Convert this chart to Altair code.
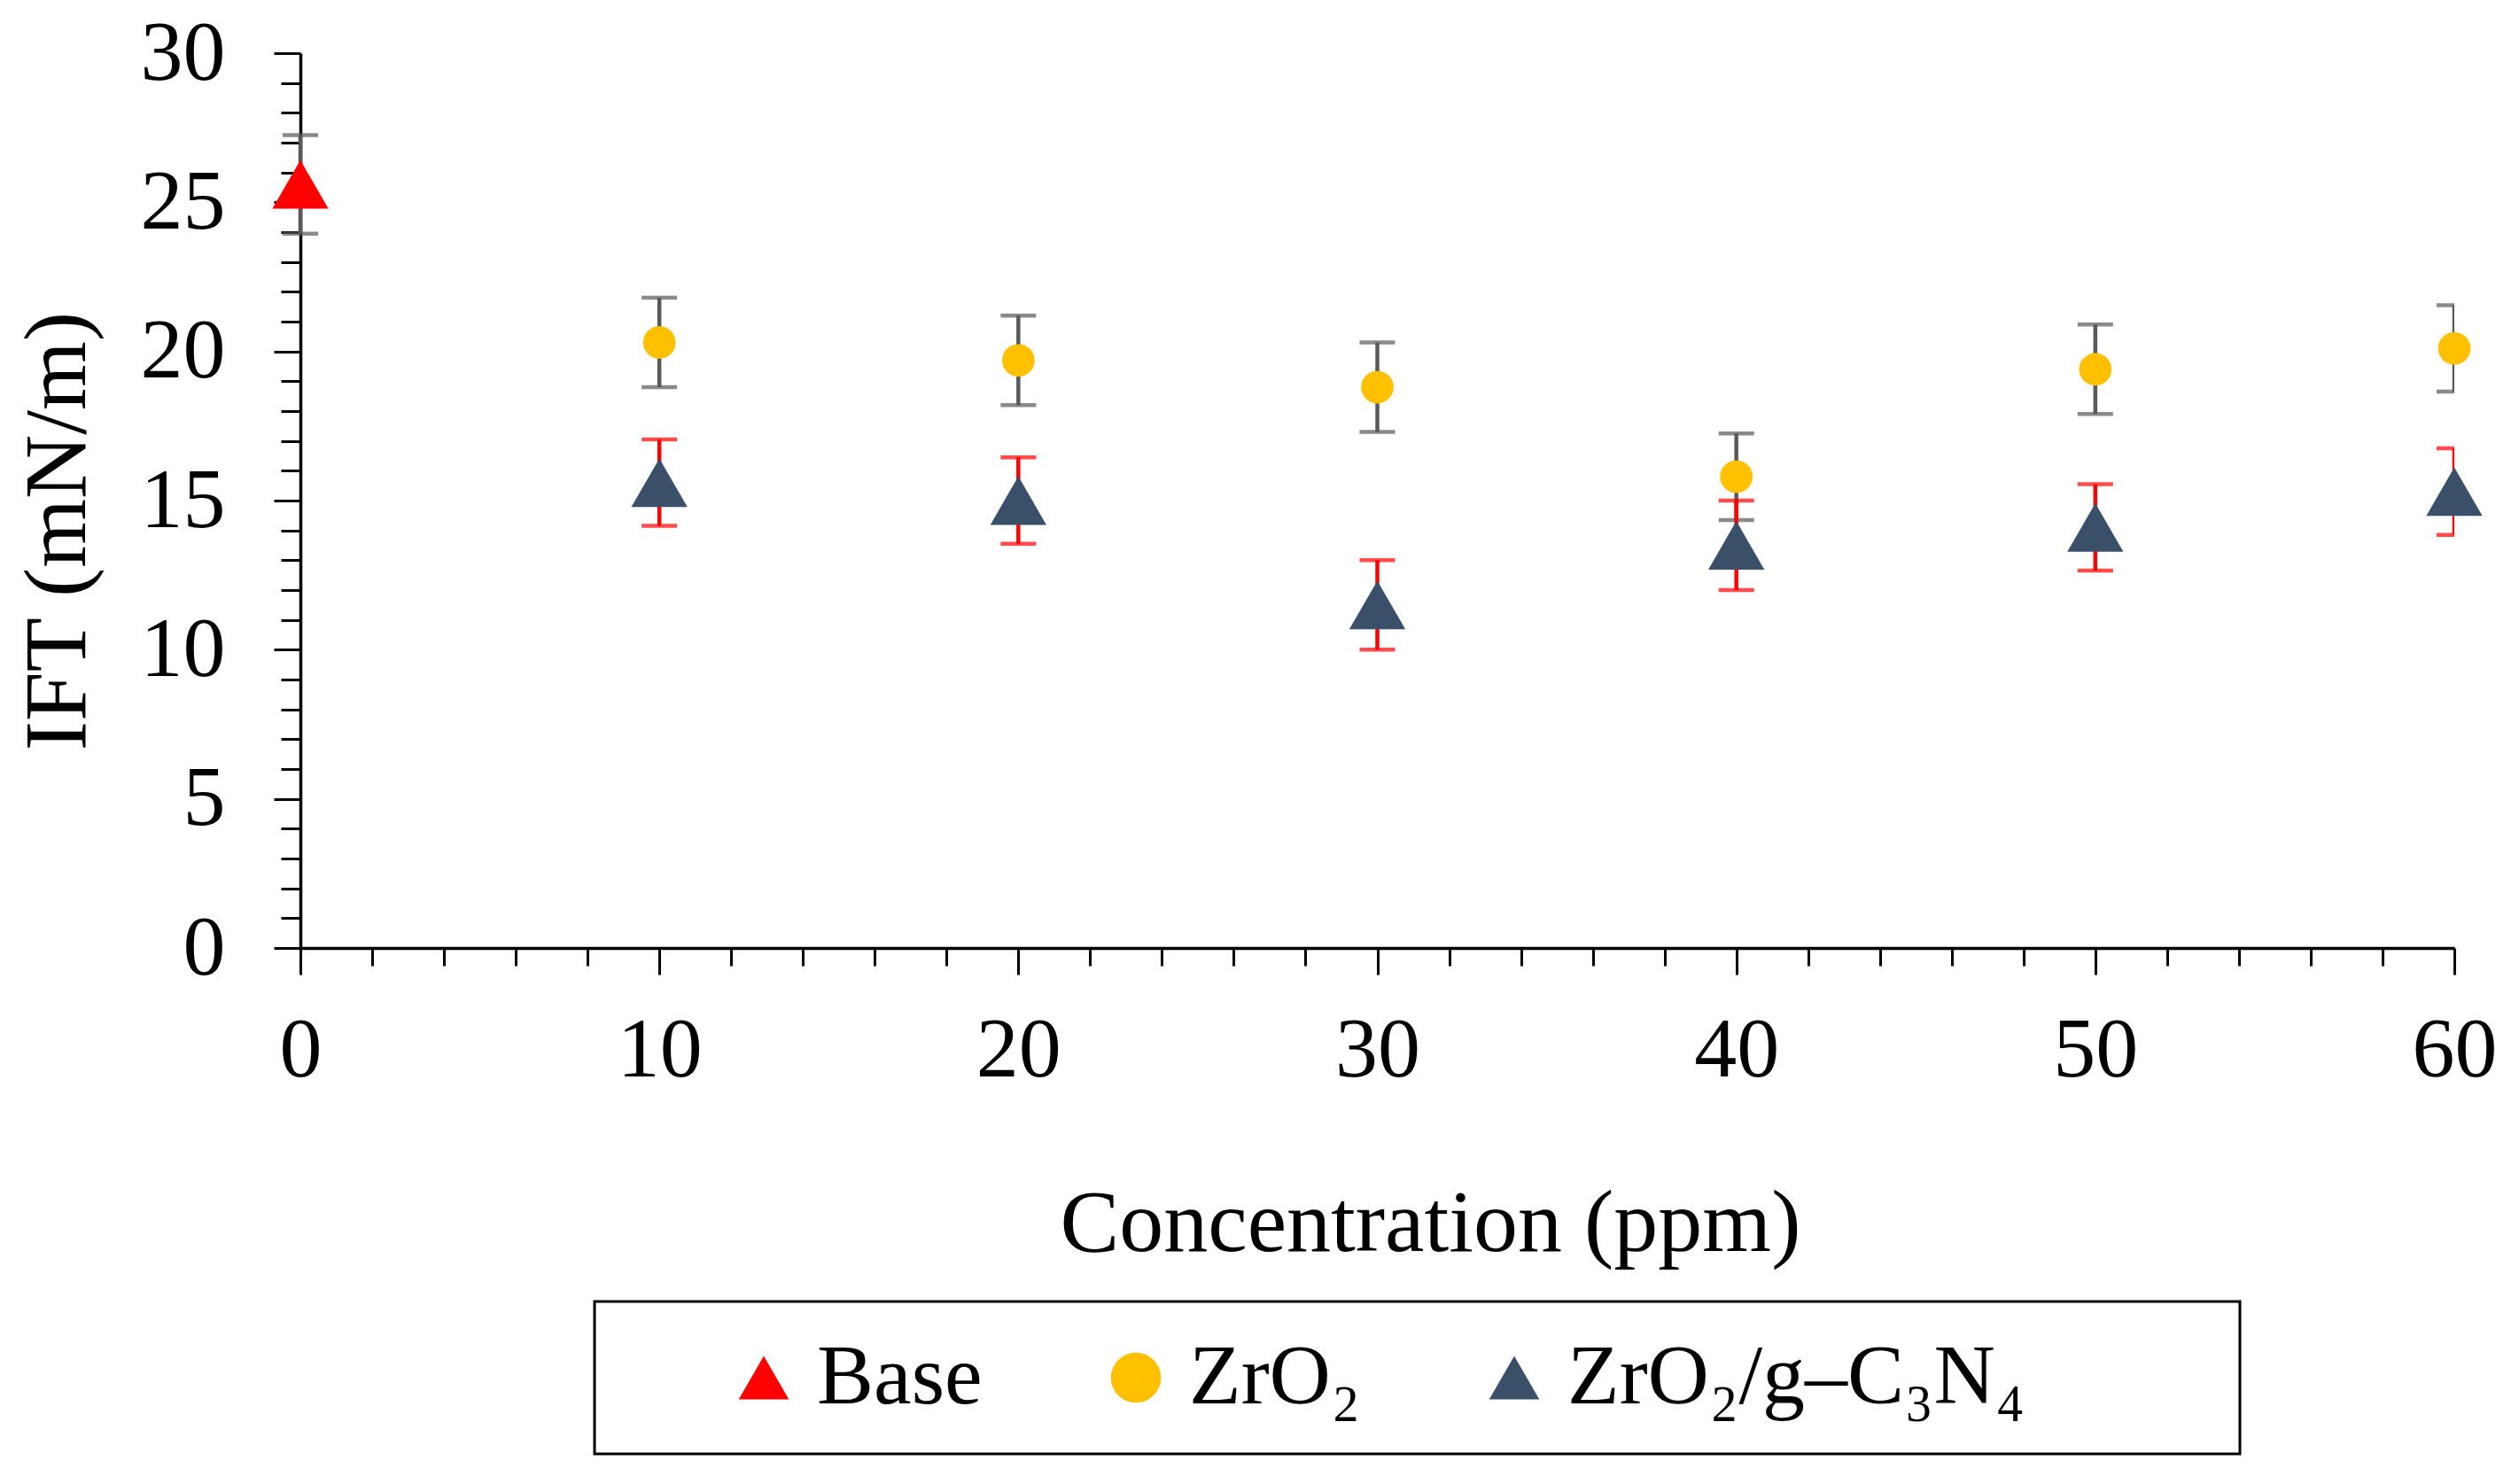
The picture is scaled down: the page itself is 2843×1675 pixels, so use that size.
import altair as alt
import pandas as pd

# ---- data ----
series_names = ["Base", "ZrO₂", "ZrO₂/g–C₃N₄"]
series_colors = ["#FF0000", "#FFC000", "#3A5069"]
series_shapes = ["triangle-up", "circle", "triangle-up"]
series_sizes = [4000, 1350, 4000]

base_conc = [0]
base_ift = [25.6]
base_err = [1.65]

conc = [10, 20, 30, 40, 50, 60]
zro2_ift = [20.3, 19.7, 18.8, 15.8, 19.4, 20.1]
zro2_err = [1.5, 1.5, 1.5, 1.45, 1.5, 1.45]
comp_ift = [15.6, 15.0, 11.5, 13.5, 14.1, 15.3]
comp_err = [1.45, 1.45, 1.5, 1.5, 1.45, 1.45]

x_ticks = list(range(0, 61, 2))
y_ticks = list(range(0, 31, 1))


def frame(i, xs, ys, es):
    return pd.DataFrame({
        "series": series_names[i],
        "msize": series_sizes[i],
        "conc": xs,
        "ift": ys,
        "lo": [y - e for y, e in zip(ys, es)],
        "hi": [y + e for y, e in zip(ys, es)],
    })


df_base = frame(0, base_conc, base_ift, base_err)
df_zro2 = frame(1, conc, zro2_ift, zro2_err)
df_comp = frame(2, conc, comp_ift, comp_err)
df_all = pd.concat([df_base, df_zro2, df_comp], ignore_index=True)

FONT = "Liberation Serif"
X_TITLE = "Concentration (ppm)"
Y_TITLE = "IFT (mN/m)"

x_scale = alt.Scale(domain=[0, 60], nice=False, zero=False)
y_scale = alt.Scale(domain=[0, 30], nice=False)

x_axis = alt.Axis(
    values=x_ticks,
    labelExpr="datum.value % 10 === 0 ? datum.label : ''",
    tickSize={"condition": {"test": "datum.value % 10 === 0", "value": 30}, "value": 20},
    labelPadding=38,
    labelFlush=False,
    labelOverlap=False,
    titleX=1275,
    titleY=341,
    titleBaseline="alphabetic",
    titleAlign="center",
)
y_axis = alt.Axis(
    values=y_ticks,
    labelExpr="datum.value % 5 === 0 ? datum.label : ''",
    tickSize={"condition": {"test": "datum.value % 5 === 0", "value": 30}, "value": 22},
    labelPadding=55,
    labelFlush=False,
    labelOverlap=False,
    titleX=-244,
    titleY=539,
    titleBaseline="alphabetic",
    titleAlign="center",
)


def errbars(df, color, clip):
    return alt.Chart(df).mark_errorbar(
        ticks=True, size=40, thickness=4.5, color=color, clip=clip
    ).encode(
        x=alt.X("conc:Q", scale=x_scale, axis=x_axis, title=X_TITLE),
        y=alt.Y("lo:Q", scale=y_scale, axis=y_axis, title=Y_TITLE),
        y2="hi:Q",
    )


err_base = errbars(df_base, "#595959", False)
err_zro2 = errbars(df_zro2, "#595959", True)
err_comp = errbars(df_comp, "#FF0000", True)

points = alt.Chart(df_all).mark_point(filled=True, opacity=1, strokeWidth=0).encode(
    x=alt.X("conc:Q", scale=x_scale, axis=x_axis, title=X_TITLE),
    y=alt.Y("ift:Q", scale=y_scale, axis=y_axis, title=Y_TITLE),
    color=alt.Color(
        "series:N",
        scale=alt.Scale(domain=series_names, range=series_colors),
        legend=alt.Legend(
            orient="none",
            legendX=332,
            legendY=1409,
            direction="horizontal",
            title=" ",
            titleOrient="right",
            titlePadding=205,
            titleFontSize=20,
        ),
    ),
    shape=alt.Shape(
        "series:N",
        scale=alt.Scale(domain=series_names, range=series_shapes),
    ),
    size=alt.Size("msize:Q", scale=None, legend=None),
    order=alt.Order("series:N"),
)

chart = alt.layer(err_base, err_zro2, err_comp, points).properties(
    width=2431,
    height=1010,
    autosize=alt.AutoSizeParams(type="none"),
    padding={"left": 331, "top": 52, "right": 60, "bottom": 600},
).configure_view(
    stroke=None
).configure_axis(
    grid=False,
    domainColor="black",
    domainWidth=3.5,
    tickColor="black",
    tickWidth=3,
    labelFont=FONT,
    labelFontSize=96,
    labelColor="black",
    titleFont=FONT,
    titleFontSize=100,
    titleFontWeight="normal",
    titleColor="black",
).configure_legend(
    labelFont=FONT,
    labelFontSize=96,
    labelColor="black",
    labelOffset=12,
    symbolSize=3200,
    symbolStrokeWidth=0,
    symbolOffset=105,
    columnPadding=20,
    padding=38,
    strokeColor="black",
    strokeWidth=3,
    labelLimit=0,
)

chart.save("out.html", embed_options={"renderer": "svg", "actions": False})
